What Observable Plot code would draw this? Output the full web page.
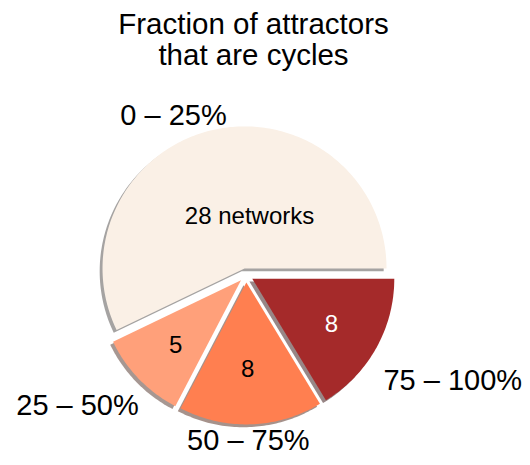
<!DOCTYPE html>
<html>
<head>
<meta charset="utf-8">
<script src="https://cdn.jsdelivr.net/npm/d3@7"></script>
<script src="https://cdn.jsdelivr.net/npm/@observablehq/plot@0.6"></script>
<style>
  html, body { margin: 0; padding: 0; background: #fff; }
</style>
</head>
<body>
<div id="chart"></div>
<script>
// ---- data ----
const categories = ["0 – 25%", "25 – 50%", "50 – 75%", "75 – 100%"];
const counts = [28, 5, 8, 8];
const innerLabels = ["28 networks", "5", "8", "8"];
const titleText = "Fraction of attractors\nthat are cycles";

// ---- styles / layout ----
const palette = ["linen", "lightsalmon", "coral", "brown"];
const innerTextColors = ["black", "black", "black", "white"];
const FONT = "Helvetica, 'Liberation Sans', Arial, sans-serif";
const W = 530, H = 465;
const PX = 142;                 // pixels per unit radius
const CX = 245.6, CY = 274.8;   // pie centre in px
const explode = 0.05, labelDistance = 1.1, pctDistance = 0.6;
const shadowOffset = [-0.02, -0.02];
// pixel nudges for label placement
const outerNudge = [[17, 0], [10, 17], [-3, 2], [-5, 25]];
const innerNudge = [[24, 31], [-4, 6], [-1.5, 2], [5, 4]];

// ---- geometry from data ----
const total = d3.sum(counts);
const cum = Array.from(d3.cumsum(counts));
const slices = categories.map((key, i) => {
  const t1 = 360 * (i === 0 ? 0 : cum[i - 1]) / total;
  const t2 = 360 * cum[i] / total;
  const tm = (t1 + t2) / 2 * Math.PI / 180;
  const ex = explode * Math.cos(tm), ey = explode * Math.sin(tm);
  return {key, i, t1, t2, tm, ex, ey};
});

function polygon(s, ox, oy) {
  const pts = [{key: s.key, i: s.i, x: s.ex + ox, y: s.ey + oy}];
  const n = Math.max(2, Math.ceil(s.t2 - s.t1));
  for (let k = 0; k <= n; ++k) {
    const t = (s.t1 + (s.t2 - s.t1) * k / n) * Math.PI / 180;
    pts.push({key: s.key, i: s.i, x: s.ex + Math.cos(t) + ox, y: s.ey + Math.sin(t) + oy});
  }
  pts.push({key: s.key, i: s.i, x: s.ex + ox, y: s.ey + oy});
  return pts;
}
const wedgeRows = slices.flatMap(s => polygon(s, 0, 0));
const shadowRows = slices.flatMap(s => polygon(s, shadowOffset[0], shadowOffset[1]));
const shadowColor = c => { const r = d3.rgb(c); return d3.rgb(r.r * 0.3, r.g * 0.3, r.b * 0.3).formatHex(); };

const outer = slices.map(s => {
  const c = Math.cos(s.tm);
  return {
    label: s.key,
    x: s.ex + labelDistance * Math.cos(s.tm) + outerNudge[s.i][0] / PX,
    y: s.ey + labelDistance * Math.sin(s.tm) - outerNudge[s.i][1] / PX,
    anchor: Math.abs(c) < 0.1 ? "middle" : (c > 0 ? "start" : "end")
  };
});
const inner = slices.map(s => ({
  label: innerLabels[s.i],
  color: innerTextColors[s.i],
  x: s.ex + pctDistance * Math.cos(s.tm) + innerNudge[s.i][0] / PX,
  y: s.ey + pctDistance * Math.sin(s.tm) - innerNudge[s.i][1] / PX
}));

const outerMarks = ["start", "middle", "end"].map(a =>
  Plot.text(outer.filter(d => d.anchor === a), {
    x: "x", y: "y", text: "label", textAnchor: a,
    fontSize: 29, fontFamily: FONT, fill: "black"
  })
);

const chart = Plot.plot({
  width: W, height: H, margin: 0,
  style: {background: "white", fontFamily: FONT},
  x: {domain: [-CX / PX, (W - CX) / PX], axis: null},
  y: {domain: [-(H - CY) / PX, CY / PX], axis: null},
  color: {type: "identity"},
  marks: [
    Plot.line(shadowRows, {
      x: "x", y: "y", z: "key",
      fill: d => shadowColor(palette[d.i]), fillOpacity: 0.5,
      stroke: "none", curve: "linear"
    }),
    Plot.line(wedgeRows, {
      x: "x", y: "y", z: "key",
      fill: d => palette[d.i],
      stroke: "none", curve: "linear"
    }),
    Plot.text(inner, {x: "x", y: "y", text: "label", fill: "color", fontSize: 24, fontFamily: FONT}),
    ...outerMarks,
    Plot.text([titleText], {
      text: d => d, frameAnchor: "top", dx: -12, dy: 11,
      fontSize: 29.5, lineHeight: 1.07, fontFamily: FONT, fill: "black"
    })
  ]
});
document.getElementById("chart").appendChild(chart);
</script>
</body>
</html>
